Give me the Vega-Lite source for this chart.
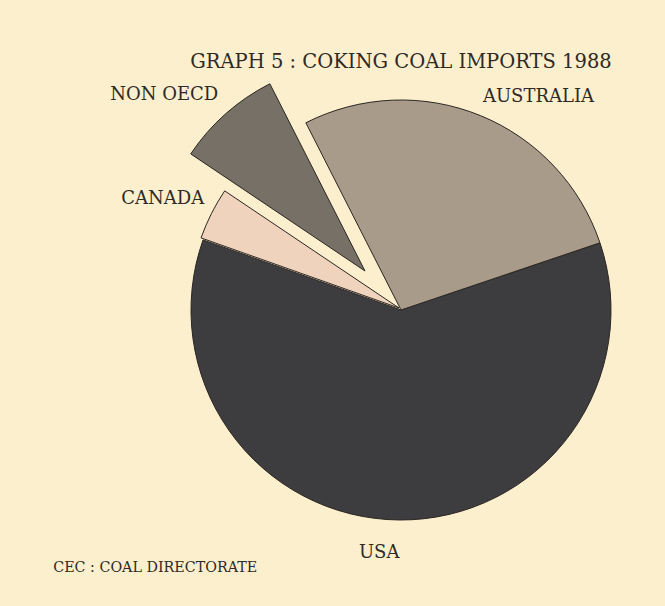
{
  "$schema": "https://vega.github.io/schema/vega-lite/v6.json",
  "background": "#fbefce",
  "padding": {"left": 53, "top": 52, "right": 49, "bottom": 34},
  "config": {"view": {"stroke": null}},
  "title": {
    "text": "CEC : COAL DIRECTORATE",
    "orient": "bottom",
    "anchor": "start",
    "dx": -57,
    "offset": -1,
    "font": "DejaVu Serif",
    "fontSize": 14.3,
    "fontWeight": "normal",
    "color": "#2e2a26"
  },
  "data": {
    "values": [
      {"region": "USA", "share": 60.6},
      {"region": "AUSTRALIA", "share": 27.3},
      {"region": "NON OECD", "share": 8.1},
      {"region": "CANADA", "share": 4.0}
    ]
  },
  "vconcat": [
    {
      "width": 430,
      "height": 440,
      "title": {
        "text": "GRAPH 5 : COKING COAL IMPORTS 1988",
        "anchor": "middle",
        "offset": 9,
        "font": "DejaVu Serif",
        "fontSize": 19.5,
        "fontWeight": "normal",
        "color": "#2e2a26"
      },
      "transform": [
        {"stack": "share", "groupby": [], "sort": [{"field": "share", "order": "descending"}], "as": ["s0", "s1"]}
      ],
      "layer": [
        {
          "transform": [{"filter": {"field": "region", "oneOf": ["USA", "AUSTRALIA"]}}],
          "mark": {"type": "arc", "outerRadius": 210, "stroke": "#2b2622", "strokeWidth": 1},
          "encoding": {
            "theta": {"field": "s0", "type": "quantitative", "scale": {"domain": [0, 100], "range": [5.0527, -1.2305]}},
            "theta2": {"field": "s1"},
            "color": {"field": "region", "type": "nominal", "legend": null,
              "scale": {"domain": ["USA", "AUSTRALIA", "NON OECD", "CANADA"], "range": ["#3d3c3e", "#a89b8a", "#767066", "#efd3bd"]}}
          }
        },
        {
          "transform": [{"filter": {"field": "region", "equal": "NON OECD"}}],
          "mark": {"type": "arc", "outerRadius": 210, "stroke": "#2b2622", "strokeWidth": 1, "xOffset": -36, "yOffset": -39},
          "encoding": {
            "theta": {"field": "s0", "type": "quantitative", "scale": {"domain": [0, 100], "range": [5.0527, -1.2305]}},
            "theta2": {"field": "s1"},
            "color": {"field": "region", "type": "nominal", "legend": null,
              "scale": {"domain": ["USA", "AUSTRALIA", "NON OECD", "CANADA"], "range": ["#3d3c3e", "#a89b8a", "#767066", "#efd3bd"]}}
          }
        },
        {
          "transform": [{"filter": {"field": "region", "equal": "CANADA"}}],
          "mark": {"type": "arc", "outerRadius": 210, "stroke": "#2b2622", "strokeWidth": 1, "xOffset": -2, "yOffset": -2},
          "encoding": {
            "theta": {"field": "s0", "type": "quantitative", "scale": {"domain": [0, 100], "range": [5.0527, -1.2305]}},
            "theta2": {"field": "s1"},
            "color": {"field": "region", "type": "nominal", "legend": null,
              "scale": {"domain": ["USA", "AUSTRALIA", "NON OECD", "CANADA"], "range": ["#3d3c3e", "#a89b8a", "#767066", "#efd3bd"]}}
          }
        },
        {
          "mark": {
            "type": "text",
            "radius": 250,
            "font": "DejaVu Serif",
            "fontSize": 18,
            "color": "#2e2a26",
            "align": "center",
            "baseline": "middle",
            "dx": {"expr": "datum.region === 'USA' ? -20 : datum.region === 'AUSTRALIA' ? 43 : datum.region === 'NON OECD' ? -71 : -15"},
            "dy": {"expr": "datum.region === 'USA' ? -7 : datum.region === 'AUSTRALIA' ? 18 : datum.region === 'NON OECD' ? -28 : 1"}
          },
          "encoding": {
            "theta": {"field": "share", "type": "quantitative", "stack": true, "scale": {"domain": [0, 100], "range": [5.0527, -1.2305]}},
            "order": {"field": "share", "sort": "descending"},
            "detail": {"field": "region"},
            "text": {"field": "region"}
          }
        }
      ]
    }
  ]
}
